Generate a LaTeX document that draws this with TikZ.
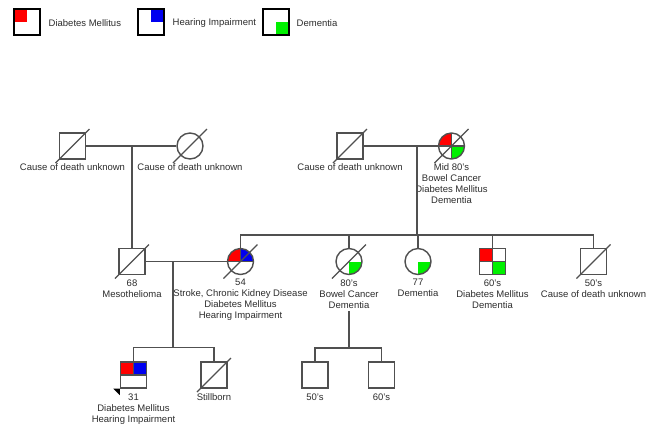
\documentclass[tikz,border=0pt]{standalone}
\usepackage{fontspec}
\setmainfont{Liberation Sans}
\usetikzlibrary{positioning,calc}
\definecolor{lc}{RGB}{80,80,80}
\definecolor{tc}{RGB}{45,45,45}
\definecolor{cRed}{RGB}{255,0,0}
\definecolor{cBlue}{RGB}{0,0,240}
\definecolor{cGreen}{RGB}{0,240,0}
\newcommand\pTL[1]{\fill[#1] (path picture bounding box.north west) rectangle (path picture bounding box.center);}
\newcommand\pTR[1]{\fill[#1] (path picture bounding box.north east) rectangle (path picture bounding box.center);}
\newcommand\pBR[1]{\fill[#1] (path picture bounding box.south east) rectangle (path picture bounding box.center);}
\newcommand\pH{\draw[lc,line width=1.2bp] (path picture bounding box.west) -- (path picture bounding box.east);}
\newcommand\pVT{\draw[lc,line width=1.2bp] (path picture bounding box.north) -- (path picture bounding box.center);}
\newcommand\pVB{\draw[lc,line width=1.2bp] (path picture bounding box.south) -- (path picture bounding box.center);}
\tikzset{
  sq/.style={rectangle,draw=lc,line width=1.4bp,minimum size=26bp,inner sep=0pt,fill=white},
  fem/.style={circle,draw=lc,line width=1.4bp,minimum size=26bp,inner sep=0pt,fill=white},
  lgd/.style={rectangle,draw=black,line width=1.6bp,minimum size=26bp,inner sep=0pt,fill=white},
  lbl/.style={text=tc,font=\fontsize{9.5bp}{11bp}\selectfont,align=center,inner sep=0pt},
  lgt/.style={text=tc,font=\fontsize{9.5bp}{11bp}\selectfont,inner sep=0pt,anchor=west},
  rel/.style={draw=lc,line width=1.4bp},
}
\newcommand\dead[1]{\draw[rel,line width=1.2bp] ($(#1.center)+(-17,17)$) -- ($(#1.center)+(17,-17)$);}
\begin{document}
\begin{tikzpicture}[x=1bp,y=-1bp]
\useasboundingbox[fill=white] (0,0) rectangle (653,425);
% legend
\node[lgd,path picture={\pTL{cRed}}] (lg1) at (27,22) {};
\node[lgt] (lg1t) at (48.5,23) {Diabetes Mellitus};
\node[lgd,path picture={\pTR{cBlue}}] (lg2) at (151,22) {};
\node[lgt] (lg2t) at (172.5,23) {Hearing Impairment};
\node[lgd,path picture={\pBR{cGreen}}] (lg3) at (276,22) {};
\node[lgt] (lg3t) at (296.5,23) {Dementia};
% generation 1
\node[sq] (g1a) at (72.5,146) {};
\node[fem] (g1b) at (190,146) {};
\node[sq] (g1c) at (350,146) {};
\node[fem,path picture={\pTL{cRed}\pBR{cGreen}\pH\pVT\pVB}] (g1d) at (451.5,146) {};
% generation 2
\node[sq] (f68) at (132,261.5) {};
\node[fem,path picture={\pTL{cRed}\pTR{cBlue}\pH\pVT}] (m54) at (240.5,261.5) {};
\node[fem,path picture={\pBR{cGreen}}] (c80) at (349,261.5) {};
\node[fem,path picture={\pBR{cGreen}}] (c77) at (418,261.5) {};
\node[sq,path picture={\pTL{cRed}\pBR{cGreen}\pH\pVT\pVB}] (s60) at (492.5,261.5) {};
\node[sq] (s50) at (593.5,261.5) {};
% generation 3
\node[sq,path picture={\pTL{cRed}\pTR{cBlue}\pH\pVT}] (p31) at (133.5,375) {};
\node[sq] (st) at (214,375) {};
\node[sq] (k50) at (315,375) {};
\node[sq] (k60) at (381.5,375) {};
% deceased slashes
\dead{g1a}\dead{g1b}\dead{g1c}\dead{g1d}
\dead{f68}\dead{m54}\dead{c80}\dead{s50}\dead{st}
% proband arrow
\fill[black] (p31.south west) -- ++(-6.5,0) -- ++(6.5,6.5) -- cycle;
% labels
\node[lbl,below=3.5bp of g1a] (g1aL) {Cause of death unknown};
\node[lbl,below=3.5bp of g1b] (g1bL) {Cause of death unknown};
\node[lbl,below=3.5bp of g1c] (g1cL) {Cause of death unknown};
\node[lbl,below=3.5bp of g1d] (g1dL) {Mid 80's\\Bowel Cancer\\Diabetes Mellitus\\Dementia};
\node[lbl,below=4bp of f68] (f68L) {68\\Mesothelioma};
\node[lbl,below=4bp of m54] (m54L) {54\\Stroke, Chronic Kidney Disease\\Diabetes Mellitus\\Hearing Impairment};
\node[lbl,below=4bp of c80] (c80L) {80's\\Bowel Cancer\\Dementia};
\node[lbl,below=4bp of c77] (c77L) {77\\Dementia};
\node[lbl,below=4bp of s60] (s60L) {60's\\Diabetes Mellitus\\Dementia};
\node[lbl,below=4bp of s50] (s50L) {50's\\Cause of death unknown};
\node[lbl,below=4.5bp of p31] (p31L) {31\\Diabetes Mellitus\\Hearing Impairment};
\node[lbl,below=4.5bp of st] (stL) {Stillborn};
\node[lbl,below=5bp of k50] (k50L) {50's};
\node[lbl,below=5bp of k60] (k60L) {60's};
% connectors
\coordinate (sib2) at (417,235);
\coordinate (sib3) at (173,347.5);
\coordinate (sib4) at (349,348);
\draw[rel] (g1a.east) -- (g1b.west);
\draw[rel] (f68.north |- g1a.east) -- (f68.north);
\draw[rel] (g1c.east) -- (g1d.west);
\draw[rel] (sib2 |- g1c.east) -- (sib2);
\draw[rel] (m54.north) |- (sib2) -| (s50.north);
\draw[rel] (c80.north |- sib2) -- (c80.north);
\draw[rel] (c77.north |- sib2) -- (c77.north);
\draw[rel] (s60.north |- sib2) -- (s60.north);
\draw[rel] (f68.east) -- (m54.west);
\draw[rel] (sib3 |- f68.east) -- (sib3);
\draw[rel] (p31.north) |- (sib3) -| (st.north);
\draw[rel] ([yshift=-3bp]c80L.south) -- (sib4);
\draw[rel] (k50.north) |- (sib4) -| (k60.north);
\end{tikzpicture}
\end{document}
